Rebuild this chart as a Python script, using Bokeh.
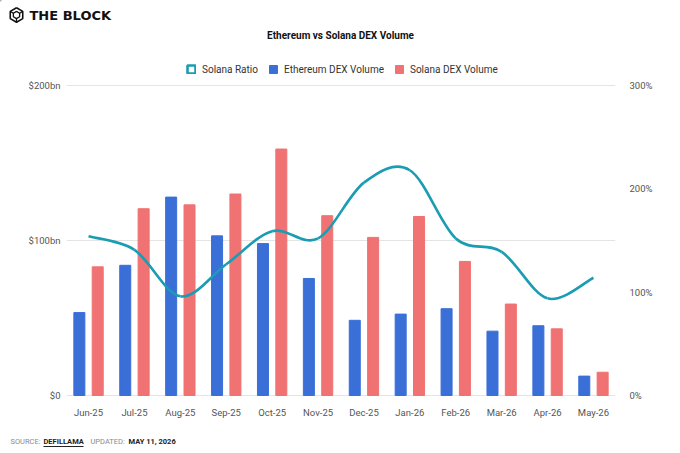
import numpy as np
from bokeh.plotting import figure
from bokeh.layouts import column
from bokeh.models import (Range1d, LinearAxis, FixedTicker, Label, Legend, LegendItem)
from bokeh.embed import file_html
from bokeh.resources import INLINE

months = ["Jun-25", "Jul-25", "Aug-25", "Sep-25", "Oct-25", "Nov-25",
          "Dec-25", "Jan-26", "Feb-26", "Mar-26", "Apr-26", "May-26"]
eth_volume = [53.5, 84, 128, 103, 98, 75.5, 48.5, 52.5, 56, 41.5, 45, 12.5]      # $bn
sol_volume = [83, 120.5, 123, 130, 159, 116, 102, 115.5, 86.5, 59, 43, 15]      # $bn
sol_ratio = [154, 141, 96, 127, 159, 152, 206, 218, 152, 139, 94, 114]           # %
left_ticks = [0, 100, 200]
left_tick_labels = ["$0", "$100bn", "$200bn"]
right_ticks = [0, 100, 200, 300]
right_tick_labels = ["0%", "100%", "200%", "300%"]
title_text = "Ethereum vs Solana DEX Volume"
series_names = ["Solana Ratio", "Ethereum DEX Volume", "Solana DEX Volume"]

ETH_C = "#3a6fd8"
SOL_C = "#f07272"
LINE_C = "#1a9cb2"
FONT = "Roboto"
W = 680
HEAD_H, MAIN_H, FOOT_H = 78, 352, 23


def blank(h):
    f = figure(width=W, height=h, output_backend="svg", toolbar_location=None,
               x_range=Range1d(0, W), y_range=Range1d(h, 0),
               min_border=0, min_border_left=0, min_border_right=0,
               min_border_top=0, min_border_bottom=0,
               outline_line_color=None, background_fill_color="white",
               border_fill_color="white")
    f.axis.visible = False
    f.grid.visible = False
    f.frame_align = False
    return f


# ---------- header: logo, title, legend ----------
head = blank(HEAD_H)
head.add_layout(Label(x=29, y=15, text="THE BLOCK", text_font="DejaVu Sans",
                      text_font_size="13px", text_font_style="bold", text_color="#111111",
                      text_baseline="middle"))
cx, cy = 16.0, 14.5
ang = np.deg2rad(np.arange(7) * 60 + 90)
head.line(x=cx + 7.2 * np.cos(ang), y=cy - 7.2 * np.sin(ang), line_color="#111111", line_width=1.6)
head.line(x=cx + 3.6 * np.cos(ang), y=cy - 3.6 * np.sin(ang), line_color="#111111", line_width=1.3)
for k in (1, 3, 5):
    head.line(x=[cx + 7.2 * np.cos(ang[k]), cx + 3.6 * np.cos(ang[k])],
              y=[cy - 7.2 * np.sin(ang[k]), cy - 3.6 * np.sin(ang[k])],
              line_color="#111111", line_width=1.3)
head.add_layout(Label(x=340, y=35, text=title_text, text_font=FONT, text_font_size="10px",
                      text_font_style="bold", text_color="#111111", text_align="center",
                      text_baseline="middle"))
pr_ratio = head.vbar(x=[-50], top=[-50], bottom=[-60], width=1, fill_color="white",
                     line_color=LINE_C, line_width=2.6)
pr_eth = head.vbar(x=[-50], top=[-50], bottom=[-60], width=1, color=ETH_C)
pr_sol = head.vbar(x=[-50], top=[-50], bottom=[-60], width=1, color=SOL_C)
legend = Legend(items=[LegendItem(label=series_names[0], renderers=[pr_ratio]),
                       LegendItem(label=series_names[1], renderers=[pr_eth]),
                       LegendItem(label=series_names[2], renderers=[pr_sol])],
                orientation="horizontal", location=(186, 3),
                label_text_font=FONT, label_text_font_size="10px", label_text_color="#333333",
                glyph_width=10, glyph_height=10, label_standoff=6, spacing=10, padding=0,
                margin=0, border_line_color=None, background_fill_alpha=0,
                label_height=12, label_text_baseline="middle")
head.add_layout(legend, "center")

# ---------- main chart ----------
p = figure(width=W, height=MAIN_H, output_backend="svg", toolbar_location=None,
           x_range=Range1d(-0.48, 11.48), y_range=Range1d(-0.65, 200.65),
           min_border_left=66, min_border_right=65, min_border_top=6, min_border_bottom=34,
           outline_line_color=None, background_fill_color="white", border_fill_color="white")
p.frame_align = False
p.extra_y_ranges = {"ratio": Range1d(-0.975, 300.975)}

x = np.arange(len(months))
p.vbar(x=x - 0.2, top=eth_volume, width=0.24, color=ETH_C)
p.vbar(x=x + 0.2, top=sol_volume, width=0.24, color=SOL_C)

# smooth (Catmull-Rom) curve through the ratio points, drawn as bezier segments
xs = x.astype(float)
ys = np.array(sol_ratio, dtype=float)
n = len(xs)
seg = {k: [] for k in ("x0", "y0", "x1", "y1", "cx0", "cy0", "cx1", "cy1")}
for i in range(n - 1):
    im1, ip2 = max(i - 1, 0), min(i + 2, n - 1)
    seg["x0"].append(xs[i]); seg["y0"].append(ys[i])
    seg["x1"].append(xs[i + 1]); seg["y1"].append(ys[i + 1])
    seg["cx0"].append(xs[i] + (xs[i + 1] - xs[im1]) / 6)
    seg["cy0"].append(ys[i] + (ys[i + 1] - ys[im1]) / 6)
    seg["cx1"].append(xs[i + 1] - (xs[ip2] - xs[i]) / 6)
    seg["cy1"].append(ys[i + 1] - (ys[ip2] - ys[i]) / 6)
p.bezier(**seg, line_color=LINE_C, line_width=2.6, y_range_name="ratio")

p.xaxis.ticker = FixedTicker(ticks=list(range(len(months))))
p.xaxis.major_label_overrides = {i: m for i, m in enumerate(months)}
p.yaxis.ticker = FixedTicker(ticks=left_ticks)
p.yaxis.major_label_overrides = {t: l for t, l in zip(left_ticks, left_tick_labels)}
raxis = LinearAxis(y_range_name="ratio", ticker=FixedTicker(ticks=right_ticks),
                   major_label_overrides={t: l for t, l in zip(right_ticks, right_tick_labels)})
p.add_layout(raxis, "right")
for ax in [p.xaxis[0], p.yaxis[0], raxis]:
    ax.axis_line_color = None
    ax.major_tick_line_color = None
    ax.minor_tick_line_color = None
    ax.major_tick_out = 0
    ax.major_tick_in = 0
    ax.minor_tick_out = 0
    ax.minor_tick_in = 0
    ax.major_label_text_font = FONT
    ax.major_label_text_font_size = "9.5px"
    ax.major_label_text_color = "#555555"
p.xaxis.major_label_standoff = 10
p.yaxis.major_label_standoff = 6
raxis.major_label_standoff = 14
p.xgrid.grid_line_color = None
p.ygrid.grid_line_color = "#e4e4e4"
p.ygrid.grid_line_width = 1

# ---------- footer ----------
foot = blank(FOOT_H)
fy = 11
for fx, txt, col, sty in [(10, "SOURCE:", "#8a8a8a", "normal"),
                          (43, "DEFILLAMA", "#222222", "bold"),
                          (90, "UPDATED:", "#8a8a8a", "normal"),
                          (128, "MAY 11, 2026", "#222222", "bold")]:
    foot.add_layout(Label(x=fx, y=fy, text=txt, text_font=FONT, text_font_size="7.5px",
                          text_font_style=sty, text_color=col, text_baseline="middle"))
foot.line(x=[43, 83], y=[16, 16], line_color="#222222", line_width=1)

layout = column(head, p, foot, spacing=0)
open("out.html", "w").write(file_html(layout, INLINE))
